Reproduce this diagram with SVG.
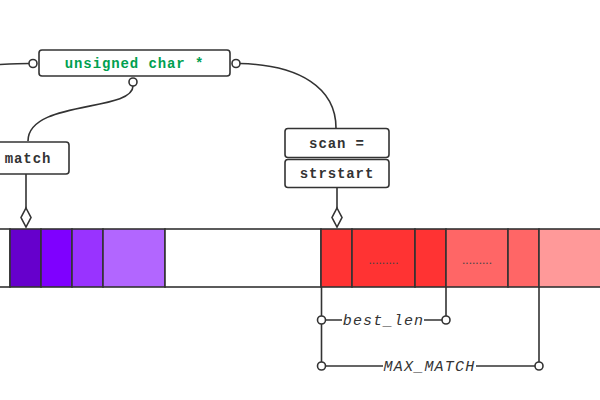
<svg xmlns="http://www.w3.org/2000/svg" width="600" height="400" viewBox="0 0 600 400">
<style>
.ln{fill:none;stroke:#333;stroke-width:1.6}
.box{fill:#fff;stroke:#333;stroke-width:1.6}
.cell{stroke:#333;stroke-width:1.6}
.pin{fill:#fff;stroke:#333;stroke-width:1.6}
.code{font-family:"Liberation Mono",monospace;font-weight:bold;font-size:14px;letter-spacing:0.9px;fill:#333;text-anchor:middle}
.lbl{font-family:"Liberation Mono",monospace;font-style:italic;font-size:15px;letter-spacing:1.2px;fill:#333;text-anchor:middle}
.dots{font-family:"Liberation Sans",sans-serif;font-size:12px;fill:#444;text-anchor:middle}
</style>
<rect width="600" height="400" fill="#fff"/>
<g id="memory">
<rect class="cell" x="-2" y="229" width="12" height="58" fill="#fff"/>
<rect class="cell" x="10" y="229" width="31" height="58" fill="#6600CC"/>
<rect class="cell" x="41" y="229" width="31" height="58" fill="#7F00FF"/>
<rect class="cell" x="72" y="229" width="31" height="58" fill="#9933FF"/>
<rect class="cell" x="103" y="229" width="62" height="58" fill="#B266FF"/>
<rect class="cell" x="165" y="229" width="156" height="58" fill="#fff"/>
<rect class="cell" x="321" y="229" width="31" height="58" fill="#FF3333"/>
<rect class="cell" x="352" y="229" width="63" height="58" fill="#FF3333"/>
<rect class="cell" x="415" y="229" width="31" height="58" fill="#FF3333"/>
<rect class="cell" x="446" y="229" width="62" height="58" fill="#FF6666"/>
<rect class="cell" x="508" y="229" width="31" height="58" fill="#FF6666"/>
<rect class="cell" x="539" y="229" width="70" height="58" fill="#FF9999"/>
<text class="dots" x="383.5" y="264">.........</text>
<text class="dots" x="477" y="264">.........</text>
</g>
<g id="connectors">
<path class="ln" d="M0,64.5 C10,64 20,63.5 29,63.5"/>
<path class="ln" d="M240,63.5 C300,65 336,88 336,128"/>
<path class="ln" d="M133,86 C133,112 28,100 28,141"/>
<path class="ln" d="M26,174 L26,208"/>
<path d="M26,208 L31,217.5 L26,227 L21,217.5 Z" class="pin"/>
<path class="ln" d="M337,188 L337,208"/>
<path d="M337,208 L342,217.5 L337,227 L332,217.5 Z" class="pin"/>
<path class="ln" d="M321.5,287 L321.5,362"/>
<path class="ln" d="M446,287 L446,316"/>
<path class="ln" d="M539,287 L539,362"/>
<path class="ln" d="M325.5,320 L342,320 M424,320 L442,320"/>
<path class="ln" d="M325.5,366 L383,366 M476,366 L535,366"/>
<circle class="pin" cx="321.5" cy="320" r="4"/>
<circle class="pin" cx="446" cy="320" r="4"/>
<circle class="pin" cx="321.5" cy="366" r="4"/>
<circle class="pin" cx="539" cy="366" r="4"/>
<text class="lbl" x="383.5" y="325">best_len</text>
<text class="lbl" x="429.5" y="371">MAX_MATCH</text>
</g>
<g id="node-type">
<rect class="box" x="39" y="50" width="191" height="26" rx="3"/>
<text class="code" x="134.5" y="68" fill="#00A050" style="fill:#00A050">unsigned char *</text>
<circle class="pin" cx="33" cy="63.5" r="4"/>
<circle class="pin" cx="236" cy="63.5" r="4"/>
<circle class="pin" cx="133" cy="82" r="4"/>
</g>
<g id="node-match">
<rect class="box" x="-14" y="142" width="83" height="32" rx="3"/>
<text class="code" x="28" y="163">match</text>
</g>
<g id="node-scan">
<rect class="box" x="285" y="128.5" width="104" height="29" rx="3"/>
<text class="code" x="337" y="148">scan =</text>
<rect class="box" x="285" y="159.5" width="104" height="28" rx="3"/>
<text class="code" x="337" y="178">strstart</text>
</g>
</svg>
